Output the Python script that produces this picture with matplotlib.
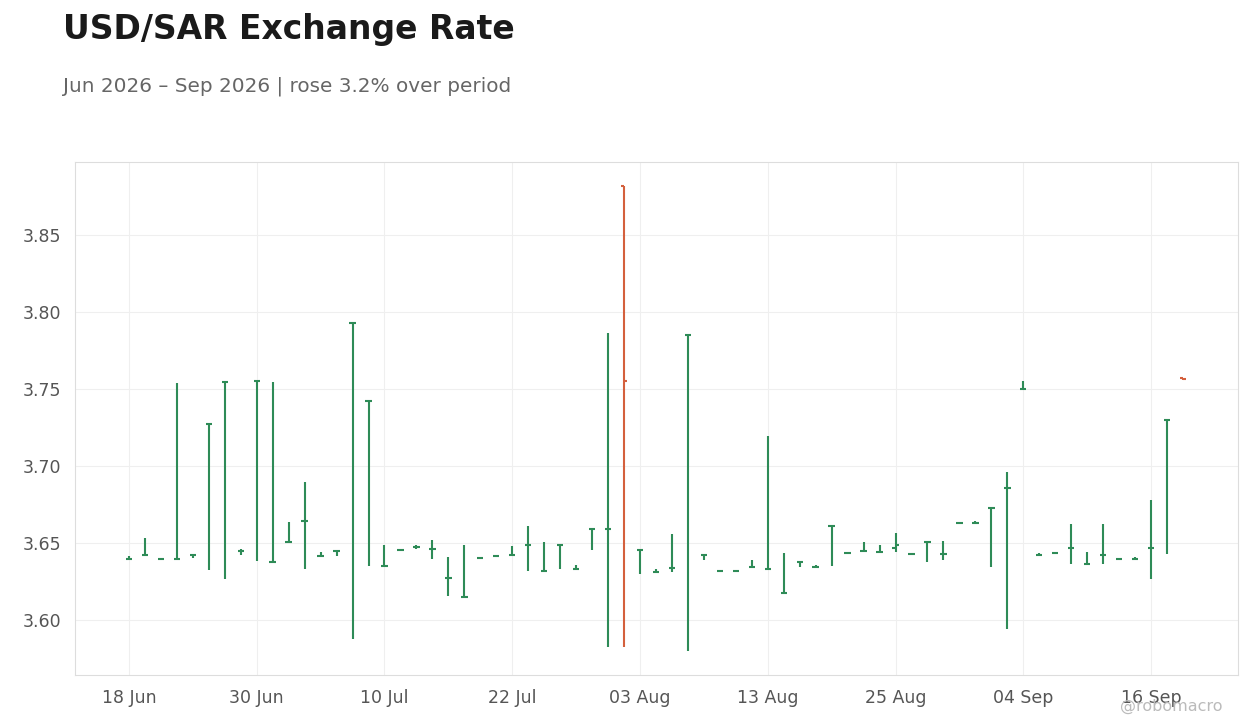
import numpy as np
import pandas as pd
import matplotlib
matplotlib.use("Agg")
import matplotlib.pyplot as plt

# ---- data ----
dates = pd.bdate_range("2026-06-18", periods=67)
close_ = [3.6398, 3.6420, 3.6398, 3.6398, 3.6420, 3.7271, 3.7543, 3.6446, 3.7550, 3.6374,
          3.6509, 3.6641, 3.6418, 3.6448, 3.7926, 3.7420, 3.6348, 3.6452, 3.6476, 3.6459,
          3.6276, 3.6152, 3.6405, 3.6413, 3.6420, 3.6485, 3.6316, 3.6485, 3.6333, 3.6590,
          3.6589, 3.7554, 3.6452, 3.6310, 3.6336, 3.7848, 3.6420, 3.6320, 3.6320, 3.6342,
          3.6329, 3.6173, 3.6374, 3.6342, 3.6608, 3.6433, 3.6446, 3.6444, 3.6485, 3.6426,
          3.6504, 3.6426, 3.6632, 3.6632, 3.6725, 3.6855, 3.7502, 3.6420, 3.6437, 3.6465,
          3.6366, 3.6420, 3.6394, 3.6394, 3.6465, 3.7297, 3.7562]
open_ = [3.6398, 3.6420, 3.6398, 3.6398, 3.6420, 3.7271, 3.7543, 3.6446, 3.7550, 3.6374,
         3.6509, 3.6641, 3.6418, 3.6448, 3.7926, 3.7420, 3.6348, 3.6452, 3.6476, 3.6459,
         3.6276, 3.6152, 3.6405, 3.6413, 3.6420, 3.6485, 3.6316, 3.6485, 3.6333, 3.6590,
         3.6589, 3.8816, 3.6452, 3.6310, 3.6336, 3.7848, 3.6420, 3.6320, 3.6320, 3.6342,
         3.6329, 3.6173, 3.6374, 3.6342, 3.6608, 3.6433, 3.6446, 3.6444, 3.6465, 3.6426,
         3.6504, 3.6426, 3.6632, 3.6632, 3.6725, 3.6855, 3.7502, 3.6420, 3.6437, 3.6465,
         3.6366, 3.6420, 3.6394, 3.6394, 3.6465, 3.7297, 3.7570]
high_ = [3.6415, 3.6535, 3.6400, 3.7539, 3.6424, 3.7275, 3.7547, 3.6463, 3.7554, 3.7548,
         3.6639, 3.6896, 3.6442, 3.6452, 3.7930, 3.7424, 3.6489, 3.6455, 3.6487, 3.6522,
         3.6411, 3.6489, 3.6408, 3.6416, 3.6483, 3.6613, 3.6509, 3.6489, 3.6359, 3.6593,
         3.7866, 3.8820, 3.6456, 3.6333, 3.6561, 3.7852, 3.6424, 3.6323, 3.6323, 3.6392,
         3.7197, 3.6437, 3.6378, 3.6359, 3.6612, 3.6442, 3.6509, 3.6489, 3.6567, 3.6435,
         3.6508, 3.6515, 3.6635, 3.6645, 3.6729, 3.6963, 3.7554, 3.6435, 3.6440, 3.6626,
         3.6444, 3.6626, 3.6398, 3.6411, 3.6781, 3.7301, 3.7573]
low_ = [3.6394, 3.6413, 3.6396, 3.6394, 3.6400, 3.6323, 3.6264, 3.6420, 3.6381, 3.6370,
        3.6505, 3.6329, 3.6414, 3.6413, 3.5874, 3.6348, 3.6344, 3.6448, 3.6461, 3.6394,
        3.6154, 3.6148, 3.6401, 3.6409, 3.6416, 3.6316, 3.6312, 3.6333, 3.6329, 3.6457,
        3.5823, 3.5823, 3.6297, 3.6306, 3.6310, 3.5797, 3.6387, 3.6316, 3.6316, 3.6338,
        3.6325, 3.6169, 3.6342, 3.6338, 3.6348, 3.6429, 3.6442, 3.6440, 3.6439, 3.6422,
        3.6374, 3.6387, 3.6628, 3.6628, 3.6342, 3.5939, 3.7498, 3.6414, 3.6433, 3.6366,
        3.6362, 3.6366, 3.6390, 3.6390, 3.6268, 3.6431, 3.7558]

title = "USD/SAR Exchange Rate"
subtitle = "Jun 2026 \u2013 Sep 2026 | rose 3.2% over period"
watermark = "@robomacro"

UP = "#2e8b57"
DOWN = "#d4603d"

o = np.array(open_); c = np.array(close_); h = np.array(high_); l = np.array(low_)
x = np.arange(len(c))
colors = [UP if cc >= oo else DOWN for oo, cc in zip(o, c)]

fig = plt.figure(figsize=(12.6, 7.28), dpi=100)
ax = fig.add_axes([0.0595, 0.0728, 0.923, 0.7047])

tw = 0.2
lw = 1.5
ax.vlines(x, l, h, colors=colors, linewidth=lw, zorder=3)
ax.hlines(o, x - tw, x, colors=colors, linewidth=lw, zorder=3)
ax.hlines(c, x, x + tw, colors=colors, linewidth=lw, zorder=3)

ax.set_xlim(-3.38, 69.44)
ax.set_ylim(3.5643, 3.8974)

tick_idx = np.arange(0, len(x), 8)
ax.set_xticks(tick_idx)
ax.set_xticklabels([dates[i].strftime("%d %b") for i in tick_idx])
ax.set_yticks([3.60, 3.65, 3.70, 3.75, 3.80, 3.85])
ax.set_yticklabels(["3.60", "3.65", "3.70", "3.75", "3.80", "3.85"])

ax.grid(True, color="#efefef", linewidth=0.8, zorder=0)
ax.set_axisbelow(True)
for s in ax.spines.values():
    s.set_color("#dddddd")
    s.set_linewidth(0.8)
ax.tick_params(axis="both", length=0, labelsize=12.5, labelcolor="#555555")
ax.tick_params(axis="x", pad=10)
ax.tick_params(axis="y", pad=10)

fig.text(0.05, 0.946, title, fontsize=23.8, fontweight="bold", color="#1a1a1a", va="baseline")
fig.text(0.05, 0.875, subtitle, fontsize=14.4, color="#666666", va="baseline")
fig.text(0.97, 0.023, watermark, fontsize=11.5, color="#bbbbbb", ha="right", va="baseline")

fig.savefig("out.png", dpi=100)
